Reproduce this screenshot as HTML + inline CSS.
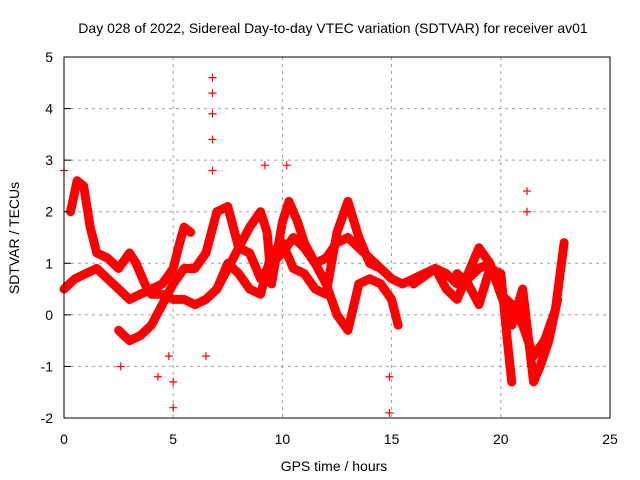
<!DOCTYPE html>
<html><head><meta charset="utf-8"><style>
body{margin:0;background:#fff}
svg{display:block;font-family:"Liberation Sans",sans-serif;font-size:14px}
</style></head><body>
<svg id="c" width="640" height="480">
<rect width="640" height="480" fill="#fff"/>
<text x="333" y="33" text-anchor="middle">Day 028 of 2022, Sidereal Day-to-day VTEC variation (SDTVAR) for receiver av01</text>
<text x="334" y="471" text-anchor="middle">GPS time / hours</text>
<text transform="translate(19,238) rotate(-90)" text-anchor="middle">SDTVAR / TECUs</text>
<g id="grid"></g><g id="series"></g>
<rect x="64" y="57" width="546" height="361" fill="none" stroke="#000"/>
<g id="ticks"></g>
</svg>
<script>
const xTicks=[0,5,10,15,20,25];
const yTicks=[-2,-1,0,1,2,3,4,5];
const track1=[[0,0.5],[0.5,0.7],[1,0.8],[1.5,0.9],[2,0.7],[2.5,0.5],[3,0.3],[3.5,0.4],[4,0.5],[4.5,0.6],[5,0.9],[5.3,1.4],[5.5,1.7],[5.8,1.6]];
const track2=[[0.3,2.0],[0.6,2.6],[0.9,2.5],[1.2,1.7],[1.5,1.2],[2,1.1],[2.5,0.9],[3,1.2],[3.3,1.0],[3.7,0.6],[4,0.4],[4.5,0.4],[5,0.3],[5.5,0.3],[6,0.2],[6.5,0.3],[7,0.5],[7.5,0.9],[8,1.3],[8.5,1.2],[9,0.7],[9.5,1.0],[10,1.2],[10.5,1.5],[11,1.3],[11.5,1.0],[12,1.1],[12.5,1.4],[13,1.5],[13.5,1.3],[14,1.1],[14.5,0.9],[15,0.7],[15.5,0.6],[16,0.7],[16.5,0.8],[17,0.9],[17.5,0.8],[18,0.6],[18.5,0.7],[19,0.9],[19.5,1.0],[20,0.4],[20.5,0.2],[21,-0.2],[21.5,-0.8],[22,-0.5],[22.5,0.1],[22.9,1.4]];
const track3=[[2.5,-0.3],[3,-0.5],[3.5,-0.4],[4,-0.2],[4.5,0.2],[5,0.6],[5.5,0.9],[6,0.9],[6.5,1.2],[7,2.0],[7.5,2.1],[8,1.3],[8.5,1.7],[9,2.0],[9.3,1.6],[9.5,0.6],[10,1.8],[10.3,2.2],[10.7,1.8],[11,1.4],[11.5,1.0],[12,0.6],[12.5,0.0],[13,-0.3],[13.5,0.6],[14,0.7],[14.5,0.6],[15,0.3],[15.3,-0.2]];
const track4=[[7,0.5],[7.5,1.0],[8,0.8],[8.5,0.5],[9,0.4],[9.5,1.2],[10,1.4],[10.5,0.9],[11,0.8],[11.5,0.5],[12,0.4],[12.5,1.6],[13,2.2],[13.5,1.5],[14,1.0],[14.5,0.9]];
const track5=[[16,0.6],[17,0.9],[17.5,0.5],[18,0.3],[18.5,0.8],[19,1.3],[19.5,1.0],[20,0.4],[20.5,-0.2],[21,0.5],[21.5,-1.3],[21.8,-1.0],[22.2,-0.5],[22.6,0.3]];
const track6=[[18,0.8],[18.5,0.6],[19,0.2],[19.5,0.9],[20,0.8],[20.3,-0.5],[20.5,-1.3]];
const spikes=[[5,-1.8],[5,-1.3],[6.8,4.6],[6.8,4.3],[6.8,3.9],[6.8,3.4],[6.8,2.8],[4.3,-1.2],[14.9,-1.9],[14.9,-1.2],[21.2,2.4],[21.2,2.0],[0,2.8],[10.2,2.9],[9.2,2.9],[6.5,-0.8],[2.6,-1.0],[4.8,-0.8]];
const NS="http://www.w3.org/2000/svg";
const X=t=>64+t*546/25, Y=v=>418-(v+2)*361/7;
function mk(tag,at,p){const e=document.createElementNS(NS,tag);for(const k in at)e.setAttribute(k,at[k]);p.appendChild(e);return e;}
const grid=document.getElementById('grid'),ticks=document.getElementById('ticks'),ser=document.getElementById('series');
xTicks.forEach(t=>{
 const g=mk('line',{x1:X(t),x2:X(t),y1:57,y2:418,stroke:'#a0a0a0','stroke-dasharray':'3,4'},grid);
 
 
 const l=mk('text',{x:X(t),y:444,'text-anchor':'middle'},ticks);l.textContent=t;
 
 
});
yTicks.forEach(v=>{
 const g=mk('line',{x1:64,x2:610,y1:Y(v),y2:Y(v),stroke:'#a0a0a0','stroke-dasharray':'3,4'},grid);
 
 
 mk('line',{x1:64,x2:71,y1:Y(v),y2:Y(v),stroke:'#000'},ticks);
 const l=mk('text',{x:53,y:Y(v)+5,'text-anchor':'end'},ticks);l.textContent=v;
 
 
});
function plus(t,v){const x=X(t),y=Y(v);
 const p=mk('path',{d:`M${x-4} ${y}H${x+4}M${x} ${y-4}V${y+4}`,stroke:'#f00','stroke-width':1.2},ser);
 
 
}
[track1,track2,track3,track4,track5,track6].forEach(tr=>{
 const pl=mk('polyline',{points:tr.map(d=>X(d[0])+','+Y(d[1])).join(' '),fill:'none',stroke:'#f00','stroke-width':9,'stroke-linejoin':'round','stroke-linecap':'round'},ser);
 
 
 tr.forEach(d=>plus(d[0],d[1]));
});
spikes.forEach(d=>plus(d[0],d[1]));
</script>
</body></html>
